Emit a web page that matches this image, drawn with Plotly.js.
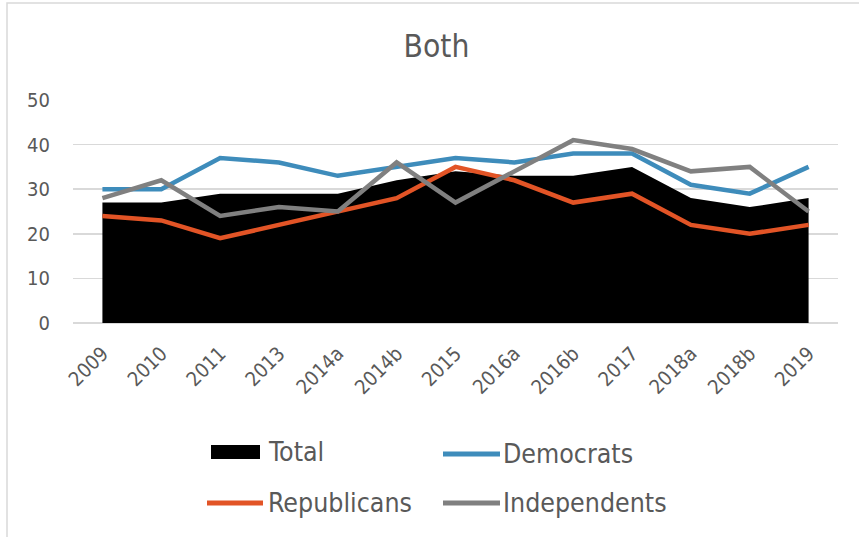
<!DOCTYPE html>
<html>
<head>
<meta charset="utf-8">
<script src="https://cdn.plot.ly/plotly-3.0.1.min.js"></script>
<style>
  html, body { margin: 0; padding: 0; background: #ffffff; }
  #chart { width: 859px; height: 537px; }
</style>
</head>
<body>
<div id="chart"></div>
<script>
// Survey waves on the category axis
const categories = ['2009', '2010', '2011', '2013', '2014a', '2014b', '2015',
                    '2016a', '2016b', '2017', '2018a', '2018b', '2019'];

// Percentages per wave
const total        = [27, 27, 29, 29, 29, 32, 34, 33, 33, 35, 28, 26, 28];
const democrats    = [30, 30, 37, 36, 33, 35, 37, 36, 38, 38, 31, 29, 35];
const republicans  = [24, 23, 19, 22, 25, 28, 35, 32, 27, 29, 22, 20, 22];
const independents = [28, 32, 24, 26, 25, 36, 27, 34, 41, 39, 34, 35, 25];

const seriesNames  = ['Total', 'Democrats', 'Republicans', 'Independents'];
const yTickValues  = [0, 10, 20, 30, 40, 50];
const chartTitle   = 'Both';

const COLORS = {
  Total: '#000000',
  Democrats: '#3e8cbb',
  Republicans: '#e25426',
  Independents: '#808080'
};
const TEXT = '#595959';
const GRID = '#d9d9d9';
const FONT = '"DejaVu Sans Condensed", "DejaVu Sans", sans-serif';

// Page geometry, used to place the hand-built legend in paper units
const W = 859, H = 537;
const M = { l: 73, r: 21, t: 100, b: 214 };
const plotW = W - M.l - M.r;
const plotH = H - M.t - M.b;
const px = x => (x - M.l) / plotW;
const py = y => (H - M.b - y) / plotH;

const traces = [
  {
    name: seriesNames[0], x: categories, y: total,
    type: 'scatter', mode: 'lines', fill: 'tozeroy',
    fillcolor: COLORS.Total, line: { width: 0, color: COLORS.Total }
  },
  {
    name: seriesNames[1], x: categories, y: democrats,
    type: 'scatter', mode: 'lines',
    line: { width: 4.5, color: COLORS.Democrats }
  },
  {
    name: seriesNames[2], x: categories, y: republicans,
    type: 'scatter', mode: 'lines',
    line: { width: 4.5, color: COLORS.Republicans }
  },
  {
    name: seriesNames[3], x: categories, y: independents,
    type: 'scatter', mode: 'lines',
    line: { width: 4.5, color: COLORS.Independents }
  }
];

// Legend: two rows by two columns below the axis
const legendItems = [
  { name: seriesNames[0], kind: 'box',  x0: 211, x1: 260, y: 452, tx: 266 },
  { name: seriesNames[1], kind: 'line', x0: 443, x1: 500, y: 454, tx: 501 },
  { name: seriesNames[2], kind: 'line', x0: 207, x1: 263, y: 503, tx: 266 },
  { name: seriesNames[3], kind: 'line', x0: 443, x1: 500, y: 503, tx: 501 }
];

const shapes = [
  // outer chart frame
  {
    type: 'rect', xref: 'paper', yref: 'paper',
    x0: px(7), x1: px(900), y0: py(3), y1: py(600),
    line: { color: GRID, width: 1.5 }, fillcolor: 'rgba(0,0,0,0)', layer: 'below'
  }
];
const annotations = [];

legendItems.forEach(it => {
  const c = COLORS[it.name];
  if (it.kind === 'box') {
    shapes.push({
      type: 'rect', xref: 'paper', yref: 'paper',
      x0: px(it.x0), x1: px(it.x1), y0: py(it.y - 7), y1: py(it.y + 7),
      fillcolor: c, line: { width: 0 }
    });
  } else {
    shapes.push({
      type: 'line', xref: 'paper', yref: 'paper',
      x0: px(it.x0), x1: px(it.x1), y0: py(it.y), y1: py(it.y),
      line: { color: c, width: 5 }
    });
  }
  annotations.push({
    xref: 'paper', yref: 'paper', x: px(it.tx), y: py(it.y - 1),
    xanchor: 'left', yanchor: 'middle', showarrow: false,
    text: it.name, font: { family: FONT, size: 26.5, color: TEXT }
  });
});

const layout = {
  width: W, height: H,
  margin: M,
  paper_bgcolor: '#ffffff',
  plot_bgcolor: '#ffffff',
  showlegend: false,
  font: { family: FONT, color: TEXT },
  title: {
    text: chartTitle,
    font: { family: FONT, size: 31.5, color: TEXT },
    xref: 'container', yref: 'container',
    x: 436.5 / W, y: 1 - 46 / H,
    xanchor: 'center', yanchor: 'middle'
  },
  xaxis: {
    type: 'category',
    range: [-0.5, categories.length - 0.5],
    showgrid: false, zeroline: false, showline: false,
    ticks: '', tickangle: -45,
    ticklabelstandoff: 14,
    tickfont: { family: FONT, size: 20, color: TEXT },
    fixedrange: true
  },
  yaxis: {
    range: [0, 50],
    tickvals: yTickValues,
    showgrid: true, gridcolor: GRID, gridwidth: 1.5,
    zeroline: true, zerolinecolor: GRID, zerolinewidth: 1.5,
    showline: false, ticks: '',
    ticklabelstandoff: 22,
    tickfont: { family: FONT, size: 20, color: TEXT },
    fixedrange: true
  },
  shapes: shapes,
  annotations: annotations
};

Plotly.newPlot('chart', traces, layout, { displayModeBar: false, staticPlot: true });
</script>
</body>
</html>
